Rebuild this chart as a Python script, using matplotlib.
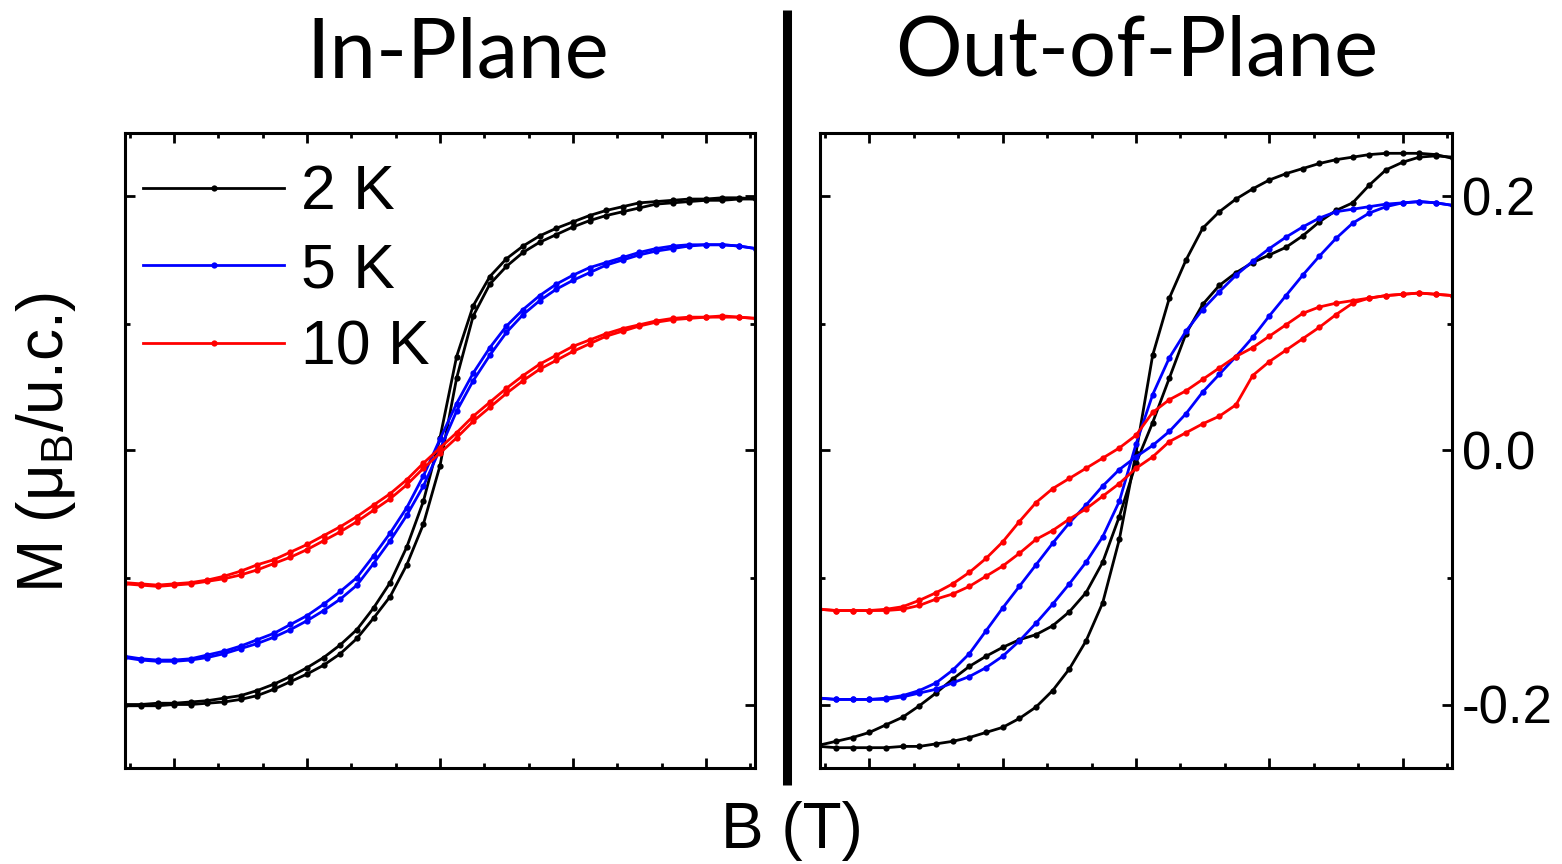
import matplotlib
matplotlib.use("Agg")
import matplotlib.pyplot as plt
from matplotlib.lines import Line2D
from matplotlib.ticker import MultipleLocator, FormatStrFormatter

plt.rcParams['font.family'] = ['Liberation Sans', 'DejaVu Sans']
plt.rcParams['mathtext.default'] = 'regular'

# ---------------- data ----------------
B_FIELD = [-2.375, -2.25, -2.125, -2.0, -1.875, -1.75, -1.625, -1.5, -1.375, -1.25,
           -1.125, -1.0, -0.875, -0.75, -0.625, -0.5, -0.375, -0.25, -0.125, 0.0,
           0.125, 0.25, 0.375, 0.5, 0.625, 0.75, 0.875, 1.0, 1.125, 1.25,
           1.375, 1.5, 1.625, 1.75, 1.875, 2.0, 2.125, 2.25, 2.375]

# In-plane
IP_2K_A = [-0.200, -0.200, -0.199, -0.199, -0.198, -0.197, -0.195, -0.193, -0.189, -0.184,
           -0.178, -0.171, -0.163, -0.153, -0.141, -0.124, -0.104, -0.076, -0.040, 0.010,
           0.074, 0.114, 0.137, 0.151, 0.161, 0.169, 0.175, 0.180, 0.185, 0.189,
           0.192, 0.195, 0.196, 0.197, 0.198, 0.198, 0.199, 0.199, 0.198]
IP_2K_B = [-0.201, -0.201, -0.201, -0.200, -0.200, -0.199, -0.198, -0.196, -0.193, -0.188,
           -0.182, -0.176, -0.169, -0.160, -0.148, -0.132, -0.115, -0.090, -0.058, -0.012,
           0.057, 0.106, 0.131, 0.145, 0.156, 0.164, 0.170, 0.176, 0.181, 0.185,
           0.188, 0.191, 0.194, 0.195, 0.196, 0.197, 0.197, 0.198, 0.198]
IP_5K_A = [-0.162, -0.164, -0.165, -0.165, -0.164, -0.161, -0.158, -0.154, -0.149, -0.144,
           -0.137, -0.130, -0.121, -0.111, -0.100, -0.083, -0.065, -0.045, -0.020, 0.009,
           0.037, 0.061, 0.081, 0.098, 0.111, 0.122, 0.131, 0.138, 0.144, 0.148,
           0.152, 0.156, 0.159, 0.161, 0.162, 0.162, 0.162, 0.161, 0.159]
IP_5K_B = [-0.163, -0.165, -0.166, -0.166, -0.165, -0.163, -0.160, -0.156, -0.152, -0.147,
           -0.141, -0.134, -0.126, -0.117, -0.106, -0.089, -0.071, -0.051, -0.028, 0.001,
           0.031, 0.055, 0.075, 0.093, 0.107, 0.118, 0.127, 0.134, 0.140, 0.146,
           0.150, 0.154, 0.157, 0.159, 0.161, 0.162, 0.162, 0.161, 0.159]
IP_10K_A = [-0.104, -0.105, -0.106, -0.105, -0.104, -0.102, -0.099, -0.095, -0.090, -0.086,
            -0.080, -0.074, -0.067, -0.060, -0.052, -0.043, -0.034, -0.023, -0.010, 0.002,
            0.014, 0.027, 0.038, 0.049, 0.059, 0.068, 0.075, 0.082, 0.087, 0.092,
            0.096, 0.099, 0.102, 0.104, 0.105, 0.105, 0.106, 0.105, 0.104]
IP_10K_B = [-0.105, -0.106, -0.107, -0.106, -0.105, -0.103, -0.101, -0.098, -0.094, -0.089,
            -0.084, -0.078, -0.071, -0.064, -0.056, -0.047, -0.038, -0.027, -0.014, -0.002,
            0.010, 0.023, 0.034, 0.045, 0.055, 0.064, 0.071, 0.078, 0.084, 0.090,
            0.094, 0.098, 0.101, 0.103, 0.104, 0.105, 0.105, 0.105, 0.104]

# Out-of-plane
OP_2K_A = [-0.233, -0.234, -0.234, -0.234, -0.234, -0.233, -0.233, -0.231, -0.229, -0.226,
           -0.222, -0.218, -0.211, -0.202, -0.189, -0.172, -0.150, -0.120, -0.070, -0.002,
           0.075, 0.120, 0.150, 0.175, 0.188, 0.198, 0.206, 0.213, 0.218, 0.222,
           0.226, 0.229, 0.231, 0.233, 0.234, 0.234, 0.234, 0.233, 0.230]
OP_2K_B = [-0.232, -0.229, -0.226, -0.222, -0.216, -0.210, -0.201, -0.191, -0.180, -0.170,
           -0.162, -0.155, -0.149, -0.145, -0.138, -0.127, -0.112, -0.088, -0.052, -0.010,
           0.022, 0.057, 0.092, 0.115, 0.130, 0.140, 0.148, 0.154, 0.160, 0.169,
           0.180, 0.189, 0.195, 0.209, 0.221, 0.227, 0.231, 0.232, 0.231]
OP_5K_A = [-0.195, -0.196, -0.196, -0.196, -0.196, -0.194, -0.191, -0.188, -0.183, -0.178,
           -0.171, -0.162, -0.150, -0.136, -0.121, -0.105, -0.088, -0.068, -0.040, 0.005,
           0.044, 0.073, 0.094, 0.111, 0.125, 0.138, 0.149, 0.159, 0.168, 0.176,
           0.183, 0.188, 0.190, 0.192, 0.194, 0.195, 0.196, 0.195, 0.193]
OP_5K_B = [-0.195, -0.196, -0.196, -0.196, -0.195, -0.193, -0.189, -0.183, -0.173, -0.160,
           -0.142, -0.124, -0.107, -0.090, -0.073, -0.057, -0.043, -0.028, -0.015, -0.005,
           0.004, 0.015, 0.029, 0.046, 0.060, 0.074, 0.089, 0.106, 0.122, 0.138,
           0.153, 0.167, 0.179, 0.187, 0.192, 0.195, 0.196, 0.195, 0.193]
OP_10K_A = [-0.125, -0.126, -0.126, -0.126, -0.125, -0.123, -0.118, -0.112, -0.105, -0.096,
            -0.085, -0.072, -0.056, -0.041, -0.030, -0.022, -0.014, -0.006, 0.002, 0.012,
            0.030, 0.040, 0.047, 0.056, 0.065, 0.074, 0.081, 0.090, 0.099, 0.108,
            0.113, 0.116, 0.118, 0.120, 0.122, 0.123, 0.124, 0.123, 0.122]
OP_10K_B = [-0.125, -0.126, -0.126, -0.126, -0.126, -0.125, -0.122, -0.117, -0.113, -0.107,
            -0.099, -0.091, -0.081, -0.070, -0.063, -0.054, -0.046, -0.036, -0.026, -0.014,
            -0.005, 0.007, 0.014, 0.021, 0.027, 0.036, 0.059, 0.070, 0.079, 0.088,
            0.097, 0.107, 0.116, 0.120, 0.122, 0.123, 0.124, 0.123, 0.122]

LABELS = ['2 K', '5 K', '10 K']
COLORS = ['#000000', '#0000ff', '#ff0000']
TITLES = ['In-Plane', 'Out-of-Plane']
Y_TICKS = [-0.2, 0.0, 0.2]

in_plane = [(IP_2K_A, IP_2K_B), (IP_5K_A, IP_5K_B), (IP_10K_A, IP_10K_B)]
out_plane = [(OP_2K_A, OP_2K_B), (OP_5K_A, OP_5K_B), (OP_10K_A, OP_10K_B)]

# ---------------- figure ----------------
W, H = 1562, 864
fig = plt.figure(figsize=(W / 100, H / 100), dpi=100)

def px_axes(x0, x1, y0, y1):
    return fig.add_axes([x0 / W, 1 - y1 / H, (x1 - x0) / W, (y1 - y0) / H])

ax1 = px_axes(125, 755, 133, 768)
ax2 = px_axes(820, 1452, 133, 768)

line_kw = dict(lw=2.0, marker='o', ms=4.5, mew=0)

for ax, sets in ((ax1, in_plane), (ax2, out_plane)):
    for (a, b), col, lab in zip(sets, COLORS, LABELS):
        ax.plot(B_FIELD, a, color=col, label=lab, **line_kw)
        ax.plot(B_FIELD, b, color=col, **line_kw)
    ax.set_xlim(-2.37, 2.37)
    ax.set_ylim(-0.25, 0.25)
    ax.xaxis.set_major_locator(MultipleLocator(1.0))
    ax.xaxis.set_minor_locator(MultipleLocator(1.0 / 3))
    ax.yaxis.set_major_locator(MultipleLocator(0.2))
    ax.yaxis.set_minor_locator(MultipleLocator(0.1))
    ax.tick_params(which='both', direction='in', top=True, bottom=True,
                   left=True, right=True, width=2.0,
                   labelbottom=False, labelleft=False, labelright=False)
    ax.tick_params(which='major', length=7)
    ax.tick_params(which='minor', length=3.5)
    for s in ax.spines.values():
        s.set_linewidth(2.2)

ax2.set_yticks(Y_TICKS)
ax2.yaxis.set_major_formatter(FormatStrFormatter('%.1f'))
ax2.tick_params(axis='y', which='major', labelright=True, labelsize=38, pad=7)

leg = ax1.legend(loc='upper left', bbox_to_anchor=(0.029, 0.952), frameon=False,
                 fontsize=45, handlelength=2.25, handletextpad=0.27,
                 labelspacing=0.30, numpoints=1, borderaxespad=0, borderpad=0)

# titles
fig.text(458 / W, 1 - 55 / H, TITLES[0], family='Lato', fontsize=60,
         ha='center', va='center')
fig.text(1137 / W, 1 - 52 / H, TITLES[1], family='Lato', fontsize=60,
         ha='center', va='center')

# axis labels
fig.text(46 / W, 1 - 442 / H, 'M (μ$_B$/u.c.)', rotation=90, fontsize=46,
         ha='center', va='center')
fig.text(792 / W, 1 - 831 / H, 'B (T)', fontsize=46, ha='center', va='center')

# divider
fig.add_artist(Line2D([787 / W, 787 / W], [1 - 10 / H, 1 - 785 / H],
                      transform=fig.transFigure, color='black', lw=6.5,
                      solid_capstyle='butt'))

fig.savefig('out.png', dpi=100, facecolor='white')
